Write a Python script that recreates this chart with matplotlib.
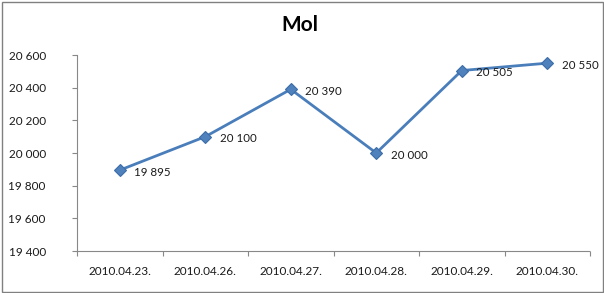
import matplotlib
matplotlib.use("Agg")
import matplotlib.pyplot as plt
from matplotlib.patches import Rectangle
from matplotlib.ticker import FixedLocator, NullFormatter

dates = ["2010.04.23.", "2010.04.26.", "2010.04.27.", "2010.04.28.", "2010.04.29.", "2010.04.30."]
values = [19895, 20100, 20390, 20000, 20505, 20550]
yticks = [19400, 19600, 19800, 20000, 20200, 20400, 20600]
title = "Mol"

def fmt(v):
    return f"{v:,}".replace(",", " ")

plt.rcParams['font.family'] = ['Lato', 'DejaVu Sans']
W, H = 604, 293
fig = plt.figure(figsize=(W/100, H/100), dpi=100)
ax = fig.add_axes([77/W, 1-251/H, (590-77)/W, (251-55)/H])

x = list(range(len(dates)))
ax.plot(x, values, color="#4A7EBB", lw=2, marker="D", markersize=6,
        markerfacecolor="#4F81BD", markeredgecolor="#3C6DA8", markeredgewidth=0.8, zorder=3)
for xi, v in zip(x, values):
    ax.annotate(fmt(v), (xi, v), xytext=(10.5, -1.5), textcoords="offset points",
                ha="left", va="center", fontsize=8.3, color="#1a1a1a", zorder=4)

ax.set_xlim(-0.5, len(dates)-0.5)
ax.set_ylim(yticks[0], yticks[-1])
ax.set_yticks(yticks)
ax.set_yticklabels([fmt(v) for v in yticks])
ax.xaxis.set_major_locator(FixedLocator([i-0.5 for i in range(len(dates)+1)]))
ax.xaxis.set_major_formatter(NullFormatter())
ax.xaxis.set_minor_locator(FixedLocator(x))
ax.set_xticklabels(dates, minor=True)
ax.tick_params(axis='x', which='major', length=3.5, color="#888888", width=0.8, direction='out')
ax.tick_params(axis='x', which='minor', length=0, pad=11, labelsize=8.5, labelcolor="#1a1a1a")
ax.tick_params(axis='y', length=3.5, color="#888888", width=0.8, direction='out', pad=19, labelsize=8.5, labelcolor="#1a1a1a")

for s in ['top', 'right']:
    ax.spines[s].set_visible(False)
for s in ['left', 'bottom']:
    ax.spines[s].set_color("#888888")
    ax.spines[s].set_linewidth(0.8)
    ax.spines[s].set_linestyle((0, (1, 1)))

fig.text(300/W, 1-25/H, title, ha="center", va="center", fontsize=15, fontweight="bold", color="#000000")

fig.patches.append(Rectangle((1.5/W, 1.5/H), (602.5-1.5)/W, (291.5-1.5)/H, transform=fig.transFigure,
                             fill=False, edgecolor="#808080", lw=1))
fig.savefig("out.png", dpi=100)
